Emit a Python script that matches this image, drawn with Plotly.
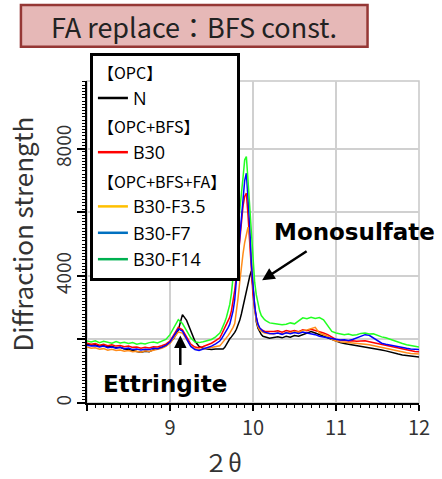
import plotly.graph_objects as go

# 2θ grid (deg)
two_theta = [
    8.00, 8.05, 8.10, 8.15, 8.20, 8.25, 8.30, 8.35, 8.40, 8.45, 8.50, 8.55, 8.60, 8.65, 8.70, 8.75,
    8.80, 8.85, 8.90, 8.95, 9.00, 9.05, 9.10, 9.15, 9.20, 9.25, 9.30, 9.35, 9.40, 9.45, 9.50, 9.55,
    9.60, 9.62, 9.64, 9.66, 9.68, 9.70, 9.72, 9.74, 9.76, 9.78, 9.80, 9.82, 9.84, 9.86, 9.88, 9.90,
    9.92, 9.94, 9.96, 9.98, 10.00, 10.02, 10.04, 10.06, 10.08, 10.10, 10.12, 10.14, 10.16, 10.18, 10.20,
    10.25, 10.30, 10.35, 10.40, 10.45, 10.50, 10.55, 10.60, 10.65, 10.70, 10.75, 10.80, 10.85, 10.90,
    10.95, 11.00, 11.05, 11.10, 11.15, 11.20, 11.25, 11.30, 11.35, 11.40, 11.45, 11.50, 11.55, 11.60,
    11.65, 11.70, 11.75, 11.80, 11.85, 11.90, 11.95, 12.00,
]

int_N = [
    1850, 1820, 1830, 1790, 1800, 1770, 1780, 1740, 1750, 1700, 1680, 1640, 1620, 1600, 1630, 1610,
    1680, 1700, 1740, 1800, 1900, 2050, 2300, 2780, 2600, 2250, 1950, 1780, 1720, 1700, 1680, 1700,
    1700, 1720, 1700, 1750, 1850, 1950, 2020, 2080, 2140, 2220, 2320, 2450, 2600, 2800, 3050, 3300,
    3500, 3750, 3980, 4150, 3550, 3000, 2550, 2350, 2220, 2150, 2100, 2080, 2060, 2050, 2040,
    2060, 2080, 2050, 2100, 2070, 2120, 2100, 2150, 2200, 2250, 2200, 2150, 2100, 2050,
    1980, 1950, 1900, 1870, 1850, 1820, 1800, 1780, 1770, 1750, 1730, 1700, 1670, 1640,
    1600, 1570, 1540, 1510, 1490, 1470, 1460, 1450,
]

int_B30 = [
    1880, 1850, 1870, 1820, 1850, 1800, 1830, 1790, 1810, 1770, 1790, 1750, 1760, 1720, 1750, 1730,
    1770, 1760, 1800, 1850, 1950, 2150, 2380, 2300, 2050, 1850, 1760, 1740, 1780, 1820, 1880, 1960,
    2050, 2150, 2250, 2350, 2450, 2550, 2700, 2900, 3200, 3550, 4000, 4600, 5200, 5800, 6200, 6500,
    6600, 5900, 5000, 4100, 3400, 2950, 2650, 2450, 2350, 2300, 2280, 2260, 2250, 2240, 2250,
    2250, 2270, 2230, 2280, 2250, 2280, 2240, 2300, 2270, 2320, 2280, 2250, 2200, 2150,
    2080, 2000, 1980, 1960, 1950, 1960, 1940, 1950, 1960, 1930, 1900, 1870, 1850, 1820,
    1800, 1760, 1720, 1690, 1660, 1640, 1620, 1610,
]

int_B30_F35 = [
    1760, 1720, 1740, 1690, 1710, 1660, 1690, 1650, 1670, 1630, 1650, 1610, 1630, 1600, 1640, 1620,
    1660, 1680, 1720, 1780, 1880, 2060, 2230, 2200, 1980, 1800, 1710, 1690, 1700, 1720, 1740, 1760,
    1800, 1860, 1920, 1990, 2060, 2120, 2200, 2280, 2380, 2500, 2850, 3300, 3800, 4300, 4700, 5050,
    5350, 5530, 5300, 4400, 3500, 2950, 2600, 2400, 2300, 2250, 2220, 2200, 2190, 2180, 2180,
    2180, 2200, 2170, 2220, 2200, 2250, 2230, 2280, 2300, 2350, 2380, 2200, 2150, 2100,
    2000, 1950, 1930, 1920, 1900, 1880, 1870, 1860, 1850, 1830, 1800, 1780, 1750, 1720,
    1690, 1660, 1630, 1600, 1580, 1560, 1550, 1540,
]

int_B30_F7 = [
    1820, 1790, 1800, 1760, 1790, 1740, 1760, 1720, 1750, 1710, 1730, 1680, 1700, 1670, 1690, 1680,
    1720, 1710, 1750, 1810, 1920, 2120, 2330, 2260, 2000, 1780, 1680, 1650, 1700, 1740, 1790, 1860,
    1950, 2020, 2100, 2200, 2280, 2370, 2480, 2650, 2900, 3250, 3800, 4500, 5200, 5900, 6500, 7000,
    7230, 6500, 5600, 4400, 3600, 3050, 2700, 2480, 2370, 2300, 2260, 2230, 2210, 2200, 2190,
    2180, 2200, 2160, 2210, 2180, 2220, 2190, 2230, 2200, 2180, 2150, 2100, 2080, 2060,
    2030, 2000, 1980, 1990, 1970, 2000, 2050, 2100, 2150, 2130, 2050, 1950, 1880, 1850,
    1820, 1790, 1760, 1740, 1720, 1700, 1690, 1680,
]

int_B30_F14 = [
    1950, 1920, 1960, 1900, 1940, 1910, 1880, 1930, 1890, 1910, 1870, 1900, 1850, 1880, 1860, 1900,
    1920, 1890, 1940, 2000, 2150, 2400, 2620, 2500, 2250, 2050, 1920, 1900, 1930, 1960, 2000, 2080,
    2200, 2300, 2400, 2550, 2700, 2880, 3100, 3450, 3950, 4450, 5000, 5400, 5900, 6500, 7100, 7650,
    7750, 7000, 6150, 5200, 4400, 3800, 3400, 3100, 2900, 2750, 2680, 2620, 2580, 2550, 2520,
    2500, 2480, 2460, 2480, 2520, 2490, 2600, 2680, 2650, 2700, 2660, 2690, 2620, 2450,
    2250, 2200, 2180, 2150, 2170, 2130, 2150, 2190, 2200, 2170, 2180, 2120, 2080, 2050,
    2000, 1960, 1900, 1870, 1830, 1800, 1770, 1760,
]

series_names = ["N", "B30", "B30-F3.5", "B30-F7", "B30-F14"]
series_values = [int_N, int_B30, int_B30_F35, int_B30_F7, int_B30_F14]
line_colors = ["#000000", "#FF0000", "#FF8C1A", "#0000FF", "#22FF22"]
legend_colors = ["#000000", "#FF0000", "#FFC000", "#0070C0", "#00B050"]
legend_groups = ["OPC", "OPC+BFS", "OPC+BFS+FA", "OPC+BFS+FA", "OPC+BFS+FA"]
group_titles = {"OPC": "【OPC】", "OPC+BFS": "【OPC+BFS】", "OPC+BFS+FA": "【OPC+BFS+FA】"}

x_tick_vals = [8, 9, 10, 11, 12]
x_tick_text = ["", "9", "10", "11", "12"]
y_tick_vals = [0, 2000, 4000, 6000, 8000]
y_tick_text = ["0", "", "4000", "", "8000"]

fig = go.Figure()

for name, vals, col in zip(series_names, series_values, line_colors):
    fig.add_trace(go.Scatter(x=two_theta, y=vals, mode="lines", name=name,
                             line=dict(color=col, width=1.5), showlegend=False))

seen = set()
for name, col, grp in zip(series_names, legend_colors, legend_groups):
    kw = {}
    if grp not in seen:
        kw["legendgrouptitle"] = dict(text=group_titles[grp],
                                      font=dict(family="Noto Sans CJK JP", size=16, color="black"))
        seen.add(grp)
    fig.add_trace(go.Scatter(x=[None], y=[None], mode="lines", name=name, legendgroup=grp,
                             line=dict(color=col, width=2.5), hoverinfo="skip", **kw))

tick_font = dict(family="Noto Sans CJK JP", size=20, color="#333333")

fig.update_layout(
    width=442, height=479, autosize=False,
    margin=dict(l=87, r=14, t=81, b=76),
    paper_bgcolor="white", plot_bgcolor="white",
    xaxis=dict(range=[8, 12], tickvals=x_tick_vals, ticktext=x_tick_text,
               ticks="outside", ticklen=6, tickwidth=1.5, tickcolor="black",
               showline=True, linecolor="black", linewidth=2,
               showgrid=True, gridcolor="#D0D0D0", gridwidth=1.5, zeroline=False,
               tickfont=tick_font, ticklabelstandoff=0,
               minor=dict(dtick=0.1, ticks="outside", ticklen=3, tickcolor="black",
                          tickwidth=1, showgrid=False)),
    yaxis=dict(range=[0, 10130], tickvals=y_tick_vals, ticktext=y_tick_text,
               ticks="outside", ticklen=8, tickwidth=1.5, tickcolor="black",
               showline=True, linecolor="black", linewidth=2,
               showgrid=True, gridcolor="#D0D0D0", gridwidth=1.5, zeroline=False,
               tickangle=-90, tickfont=dict(family="Noto Sans CJK JP", size=19, color="#333333"),
               ticklabelstandoff=-2,
               minor=dict(dtick=100, ticks="outside", ticklen=3, tickcolor="black",
                          tickwidth=1, showgrid=False)),
    legend=dict(x=0.0088, y=1.087, xanchor="left", yanchor="top",
                bgcolor="white", bordercolor="black", borderwidth=3,
                font=dict(family="Open Sans", size=18, color="black"),
                traceorder="grouped", tracegroupgap=4, itemwidth=30, maxheight=420),
    shapes=[
        dict(type="rect", xref="paper", yref="paper", x0=0, x1=1, y0=0, y1=1,
             line=dict(color="#C8C8C8", width=1.5), layer="below"),
        dict(type="rect", xref="paper", yref="paper", x0=-0.199, x1=0.845, y0=1.106, y1=1.236,
             fillcolor="#E6B8B7", line=dict(color="#953735", width=2.5), layer="above"),
    ],
    annotations=[
        dict(text="FA replace：BFS const.", xref="paper", yref="paper", x=0.3226, y=1.168,
             showarrow=False, xanchor="center", yanchor="middle",
             font=dict(family="Noto Sans CJK JP", size=27, color="#222222")),
        dict(text="Diffraction strength", xref="paper", yref="paper", x=-0.197, y=0.525,
             showarrow=False, textangle=-90, xanchor="center", yanchor="middle",
             font=dict(family="Noto Sans CJK JP", size=26, color="#333333")),
        dict(text="２θ", xref="paper", yref="paper", x=0.41, y=-0.183,
             showarrow=False, xanchor="center", yanchor="middle",
             font=dict(family="Noto Sans CJK JP", size=24, color="#333333")),
        dict(text="<b>Monosulfate</b>", xref="paper", yref="paper", x=0.557, y=0.531,
             showarrow=False, xanchor="left", yanchor="middle",
             font=dict(family="DejaVu Sans", size=23, color="black")),
        dict(text="<b>Ettringite</b>", xref="paper", yref="paper", x=0.042, y=0.059,
             showarrow=False, xanchor="left", yanchor="middle",
             font=dict(family="DejaVu Sans", size=23, color="black")),
        dict(text="", x=10.11, y=3860, xref="x", yref="y", showarrow=True,
             ax=46, ay=-30, arrowhead=2, arrowsize=1, arrowwidth=2.5, arrowcolor="black",
             standoff=0),
        dict(text="", x=9.124, y=2126, xref="x", yref="y", showarrow=True,
             ax=0, ay=31, arrowhead=2, arrowsize=1, arrowwidth=2.5, arrowcolor="black",
             standoff=0),
    ],
)

fig.write_html("out.html")
